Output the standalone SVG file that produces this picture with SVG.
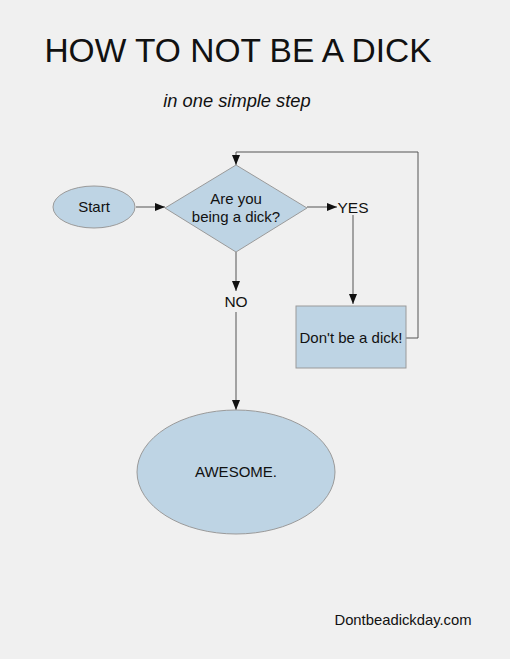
<svg xmlns="http://www.w3.org/2000/svg" width="510" height="659" viewBox="0 0 510 659">
<defs>
<style>
.node{fill:#bed4e4;stroke:#9a9a9a;stroke-width:1}
.t{font-family:"Liberation Sans",Arial,sans-serif;fill:#111;text-anchor:middle}
.c{fill:none;stroke:#555;stroke-width:1}
</style>
<marker id="ah" viewBox="0 0 10 10" refX="10" refY="5" markerWidth="10" markerHeight="10" markerUnits="userSpaceOnUse" orient="auto">
<path d="M0,1 L10,5 L0,9 z" fill="#111"/>
</marker>
</defs>
<rect width="510" height="659" fill="#f0f0f0"/>
<text class="t" x="238" y="62" font-size="33.5">HOW TO NOT BE A DICK</text>
<text class="t" x="237" y="107" font-size="18.3" font-style="italic">in one simple step</text>
<g id="connectors">
<line class="c" x1="136" y1="207" x2="165" y2="207" marker-end="url(#ah)"/>
<line class="c" x1="307" y1="207" x2="337" y2="207" marker-end="url(#ah)"/>
<line class="c" x1="353" y1="215" x2="353" y2="304" marker-end="url(#ah)"/>
<polyline class="c" points="406,338 418,338 418,152 236,152 236,165" marker-end="url(#ah)"/>
<line class="c" x1="236" y1="252" x2="236" y2="291" marker-end="url(#ah)"/>
<line class="c" x1="236" y1="312" x2="236" y2="410" marker-end="url(#ah)"/>
</g>
<g id="start">
<ellipse class="node" cx="94" cy="207" rx="41" ry="21"/>
<text class="t" x="94" y="212" font-size="15">Start</text>
</g>
<g id="decision">
<polygon class="node" points="236,165 307,208 236,252 165,208"/>
<text class="t" x="236" y="204" font-size="15">Are you</text>
<text class="t" x="236" y="222" font-size="15">being a dick?</text>
</g>
<g id="yes">
<text class="t" x="353" y="213" font-size="15.5">YES</text>
</g>
<g id="no">
<text class="t" x="236" y="307" font-size="15.5">NO</text>
</g>
<g id="dontbe">
<rect class="node" x="296" y="306" width="110" height="62"/>
<text class="t" x="351" y="343" font-size="15">Don't be a dick!</text>
</g>
<g id="awesome">
<ellipse class="node" cx="236" cy="472" rx="99" ry="62"/>
<text class="t" x="236" y="477" font-size="15">AWESOME.</text>
</g>
<text class="t" x="403" y="625" font-size="14.8">Dontbeadickday.com</text>
</svg>
